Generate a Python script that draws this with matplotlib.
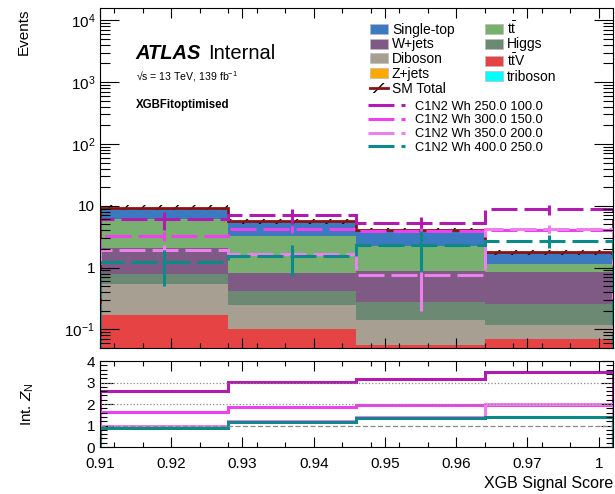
import numpy as np
import matplotlib
matplotlib.use('Agg')
import matplotlib.pyplot as plt
from matplotlib.patches import Patch
from matplotlib.lines import Line2D
from matplotlib.ticker import LogLocator, MultipleLocator, NullFormatter

plt.rcParams['font.family'] = ['Liberation Sans', 'DejaVu Sans']
plt.rcParams['mathtext.fontset'] = 'custom'
plt.rcParams['mathtext.rm'] = 'Liberation Sans'
plt.rcParams['mathtext.it'] = 'Liberation Sans:italic'
plt.rcParams['mathtext.bf'] = 'Liberation Sans:bold'
plt.rcParams['hatch.linewidth'] = 1.0

# binning of the XGB score
edges = np.array([0.91, 0.928, 0.946, 0.964, 0.982])
centers = 0.5 * (edges[1:] + edges[:-1])

# background yields per bin
triboson = [0.001, 0.001, 0.001, 0.001]
zjets = [0.002, 0.001, 0.001, 0.001]
ttV = [0.167, 0.100, 0.054, 0.068]
diboson = [0.363, 0.142, 0.086, 0.047]
higgs = [0.240, 0.178, 0.134, 0.145]
wjets = [1.31, 0.41, 0.596, 0.59]
ttbar = [4.12, 2.37, 1.40, 0.31]
singletop = [3.10, 2.40, 1.71, 0.62]
sm_relerr = [0.09, 0.09, 0.09, 0.10]

# signal yields, stat errors and integrated significance
sig_labels = ['C1N2 Wh 250.0 100.0', 'C1N2 Wh 300.0 150.0',
              'C1N2 Wh 350.0 200.0', 'C1N2 Wh 400.0 250.0']
sig_yields = [[6.0, 7.05, 5.3, 8.7],
              [3.21, 4.13, 3.9, 4.1],
              [1.89, 1.67, 0.77, 4.2],
              [1.22, 1.52, 2.36, 2.71]]
sig_errors = [[1.9, 1.9, 1.4, 1.5],
              [0.55, 0.5, 0.5, 0.5],
              [0.45, 0.4, 0.57, 0.6],
              [0.72, 0.8, 1.5, 0.6]]
int_zn = [[2.62, 3.04, 3.15, 3.47],
          [1.64, 1.87, 1.95, 1.97],
          [0.98, 1.20, 1.38, 1.98],
          [0.90, 1.18, 1.36, 1.41]]

xtick_pos = [0.91, 0.92, 0.93, 0.94, 0.95, 0.96, 0.97, 0.98]
xtick_lab = ['0.91', '0.92', '0.93', '0.94', '0.95', '0.96', '0.97', '1']

bkg = [('triboson', triboson, '#00ffff'),
       ('Z+jets', zjets, '#ffa800'),
       (r'$\mathregular{t\bar{t}}$V', ttV, '#e64444'),
       ('Diboson', diboson, '#a7a092'),
       ('Higgs', higgs, '#6c8a73'),
       ('W+jets', wjets, '#7e5a84'),
       (r'$\mathregular{t\bar{t}}$', ttbar, '#78b06f'),
       ('Single-top', singletop, '#3b79c0')]
sig_colors = ['#b01cb0', '#ee40ee', '#ee80ee', '#0c8a8a']
sm_color = '#8b1212'

fig = plt.figure(figsize=(6.15, 4.94), dpi=100)
ax = fig.add_axes([0.1626, 0.2955, 0.834, 0.688])
rax = fig.add_axes([0.1626, 0.0951, 0.834, 0.174], sharex=ax)

# stacked backgrounds
bottom = np.zeros(len(centers))
handles = {}
for name, vals, col in bkg:
    top = bottom + np.array(vals)
    ax.stairs(top, edges, baseline=bottom, fill=True, color=col, lw=0)
    handles[name] = Patch(facecolor=col, edgecolor='#bbbbbb', lw=0.5)
    bottom = top
total = bottom

# SM total with hatched uncertainty
err = total * np.array(sm_relerr)
ax.stairs(total + err, edges, baseline=total - err, fill=True,
          facecolor='none', edgecolor='black', hatch='//', lw=0)
ax.stairs(total, edges, color=sm_color, lw=2)

# signals
lw_sig = 2.2
for vals, errs, col in zip(sig_yields, sig_errors, sig_colors):
    ax.stairs(vals, edges, color=col, lw=lw_sig, ls=(0, (8.5, 2.3)))
    ax.errorbar(centers, vals, yerr=errs, fmt='none', ecolor=col, elinewidth=lw_sig)

ax.set_yscale('log')
ax.set_xlim(edges[0], edges[-1])
ax.set_ylim(0.05, 1.57e4)
ax.set_yticks([0.1, 1, 10, 100, 1e3, 1e4],
              [r'$\mathregular{10^{-1}}$', '1', '10', r'$\mathregular{10^{2}}$',
               r'$\mathregular{10^{3}}$', r'$\mathregular{10^{4}}$'])
ax.yaxis.set_minor_locator(LogLocator(subs=np.arange(2, 10)))
ax.yaxis.set_minor_formatter(NullFormatter())
ax.set_xticks(xtick_pos)
ax.xaxis.set_minor_locator(MultipleLocator(0.004))
ax.tick_params(axis='x', labelbottom=False)
ax.tick_params(which='both', direction='in', top=True, right=True, labelsize=11)
ax.tick_params(axis='y', which='major', length=14, width=0.8)
ax.tick_params(axis='y', which='minor', length=7, width=0.8)
ax.tick_params(axis='x', which='major', length=7, width=0.8)
ax.tick_params(axis='x', which='minor', length=3.5, width=0.8)
ax.set_ylabel('Events', loc='top', fontsize=11)
ax.yaxis.set_label_coords(-0.135, 1.0)

ax.text(0.07, 0.85, 'ATLAS', transform=ax.transAxes, fontsize=14.5,
        fontweight='bold', style='italic', va='baseline')
ax.text(0.211, 0.85, 'Internal', transform=ax.transAxes, fontsize=14.5, va='baseline')
ax.text(0.07, 0.786, '√s = 13 TeV, 139 fb$^{\\mathregular{-1}}$', transform=ax.transAxes,
        fontsize=7.6, va='baseline')
ax.text(0.07, 0.706, 'XGBFitoptimised', transform=ax.transAxes, fontsize=8.3,
        fontweight='bold', va='baseline')

# legends
sm_handle = (Patch(facecolor='none', edgecolor='black', hatch='//', lw=0),
             Line2D([], [], color=sm_color, lw=2))
order = ['Single-top', 'W+jets', 'Diboson', 'Z+jets', None,
         r'$\mathregular{t\bar{t}}$', 'Higgs', r'$\mathregular{t\bar{t}}$V', 'triboson']
leg_h, leg_l = [], []
for name in order:
    if name is None:
        leg_h.append(sm_handle)
        leg_l.append('SM Total')
    else:
        leg_h.append(handles[name])
        leg_l.append(name)
leg1 = ax.legend(leg_h, leg_l, ncol=2, loc='upper left', bbox_to_anchor=(0.527, 0.965),
                 frameon=False, fontsize=10, handlelength=1.3, handleheight=0.75,
                 handletextpad=0.25, labelspacing=0.05, columnspacing=2.2,
                 borderpad=0, borderaxespad=0)
ax.add_artist(leg1)
sig_h = [Line2D([], [], color=c, lw=lw_sig, ls=(0, (8.5, 2.3))) for c in sig_colors]
ax.legend(sig_h, sig_labels, loc='upper left', bbox_to_anchor=(0.522, 0.728),
          frameon=False, fontsize=9.3, handlelength=2.9, handletextpad=0.75,
          labelspacing=0.13, borderpad=0, borderaxespad=0)

# integrated significance panel
rax.axhline(3, color='#888888', ls=':', lw=0.9)
rax.axhline(2, color='#888888', ls=':', lw=0.9)
rax.axhline(1, color='#888888', ls=(0, (4, 2)), lw=0.9)
for vals, col in zip(int_zn, sig_colors):
    rax.stairs(vals, edges, color=col, lw=2.2)
rax.set_ylim(0, 4)
rax.set_yticks([0, 1, 2, 3, 4])
rax.yaxis.set_minor_locator(MultipleLocator(0.2))
rax.set_xticks(xtick_pos, xtick_lab)
rax.tick_params(which='both', direction='in', top=True, right=True, labelsize=11)
rax.tick_params(axis='y', which='major', length=9, width=0.8)
rax.tick_params(axis='y', which='minor', length=5, width=0.8)
rax.tick_params(axis='x', which='major', length=7, width=0.8, pad=7)
rax.tick_params(axis='x', which='minor', length=3.5, width=0.8)
rax.set_ylabel('Int. $Z_{\\mathregular{N}}$', fontsize=11)
rax.yaxis.set_label_coords(-0.125, 0.5)
rax.set_xlabel('XGB Signal Score', loc='right', fontsize=11.5)

for a in (ax, rax):
    for s in a.spines.values():
        s.set_linewidth(0.8)

fig.savefig('out.png', dpi=100)
